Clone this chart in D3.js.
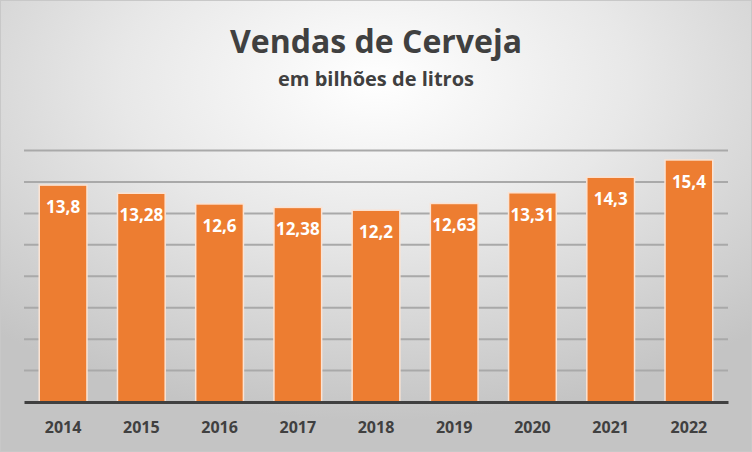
<!DOCTYPE html>
<html>
<head>
<meta charset="utf-8">
<script src="https://cdn.jsdelivr.net/npm/d3@7.9.0/dist/d3.min.js"></script>
<style>
  html, body { margin: 0; padding: 0; background: #fff; }
  svg { display: block; font-family: "Open Sans", "Noto Sans", sans-serif; }
</style>
</head>
<body>
<svg id="chart" width="752" height="452"></svg>
<script>
const years = ["2014", "2015", "2016", "2017", "2018", "2019", "2020", "2021", "2022"];
const sales = [13.8, 13.28, 12.6, 12.38, 12.2, 12.63, 13.31, 14.3, 15.4];
const labels = ["13,8", "13,28", "12,6", "12,38", "12,2", "12,63", "13,31", "14,3", "15,4"];
const gridTicks = [2, 4, 6, 8, 10, 12, 14, 16];

const svg = d3.select("#chart");
const W = 752, H = 452;
const margin = { top: 150.5, right: 24, bottom: 50, left: 24 };
const width = W - margin.left - margin.right;
const height = H - margin.top - margin.bottom;

// background
const defs = svg.append("defs");
const grad = defs.append("radialGradient")
  .attr("id", "bg")
  .attr("cx", "50%").attr("cy", "18%")
  .attr("r", "75%")
  .attr("gradientUnits", "objectBoundingBox");
grad.append("stop").attr("offset", "0%").attr("stop-color", "#ffffff");
grad.append("stop").attr("offset", "45%").attr("stop-color", "#e8e8e8");
grad.append("stop").attr("offset", "100%").attr("stop-color", "#c4c4c4");

svg.append("rect")
  .attr("width", W).attr("height", H)
  .attr("fill", "url(#bg)");
svg.append("rect")
  .attr("x", 0.5).attr("y", 0.5)
  .attr("width", W - 1).attr("height", H - 1)
  .attr("fill", "none")
  .attr("stroke", "#c8c8c8");

// titles
svg.append("text")
  .attr("x", W / 2)
  .attr("y", 53)
  .attr("text-anchor", "middle")
  .attr("font-size", "32px")
  .attr("font-weight", "bold")
  .attr("fill", "#404040")
  .text("Vendas de Cerveja");

svg.append("text")
  .attr("x", W / 2)
  .attr("y", 86)
  .attr("text-anchor", "middle")
  .attr("font-size", "20px")
  .attr("font-weight", "bold")
  .attr("fill", "#404040")
  .text("em bilhões de litros");

const g = svg.append("g").attr("transform", `translate(${margin.left},${margin.top})`);

const x = d3.scaleBand().domain(years).range([0, width]).paddingInner(0.39).paddingOuter(0.195);
const y = d3.scaleLinear().domain([0, 16]).range([height, 0]);

// gridlines
g.selectAll(".grid")
  .data(gridTicks)
  .enter()
  .append("line")
  .attr("class", "grid")
  .attr("x1", 0).attr("x2", width)
  .attr("y1", d => y(d)).attr("y2", d => y(d))
  .attr("stroke", "#a9a9a9")
  .attr("stroke-width", 2);

// bars
g.selectAll(".bar")
  .data(sales)
  .enter()
  .append("rect")
  .attr("class", "bar")
  .attr("x", (d, i) => x(years[i]))
  .attr("y", d => y(d))
  .attr("width", x.bandwidth())
  .attr("height", d => height - y(d))
  .attr("fill", "#ed7d31")
  .attr("stroke", "#fbe3d3")
  .attr("stroke-width", 1.5);

// value labels
g.selectAll(".val")
  .data(sales)
  .enter()
  .append("text")
  .attr("class", "val")
  .attr("x", (d, i) => x(years[i]) + x.bandwidth() / 2)
  .attr("y", d => y(d) + 28)
  .attr("text-anchor", "middle")
  .attr("font-size", "17px")
  .attr("font-weight", "bold")
  .attr("fill", "#ffffff")
  .text((d, i) => labels[i]);

// x axis
const xAxis = g.append("g")
  .attr("transform", `translate(0,${height})`)
  .call(d3.axisBottom(x).tickSize(0).tickPadding(20));
xAxis.select(".domain")
  .attr("stroke", "#404040")
  .attr("stroke-width", 3);
xAxis.selectAll("text")
  .attr("font-family", "'Open Sans', 'Noto Sans', sans-serif")
  .attr("font-size", "16px")
  .attr("font-weight", "bold")
  .attr("fill", "#404040");
</script>
</body>
</html>
